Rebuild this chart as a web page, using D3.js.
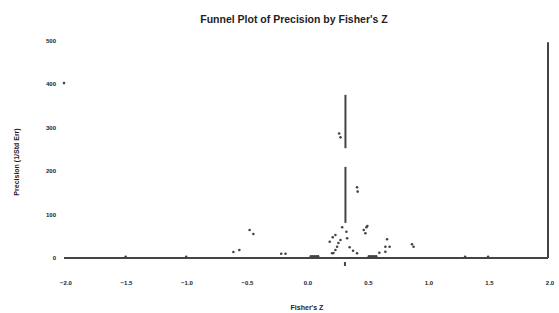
<!DOCTYPE html>
<html>
<head>
<meta charset="utf-8">
<script src="https://cdn.jsdelivr.net/npm/d3@7"></script>
<style>
  html, body { margin: 0; padding: 0; background: #fff; }
  text { font-family: "Liberation Sans", Arial, sans-serif; font-weight: bold; fill: #222; }
</style>
</head>
<body>
<svg id="chart"></svg>
<script>
// study points: Fisher's Z and precision (1/Std Err)
const studyZ = [0.299, 0.334, 0.243, 0.221, 0.196, 0.285, 0.268, 0.257, 0.243, 0.227,
  0.216, 0.340, 0.361, 0.389, 0.422, 0.499, 0.477, 0.491, 0.507, 0.670,
  0.656, 0.691, 0.656, 0.606, 0.876, 0.889, -0.466, -0.435, -0.600, -0.551,
  -0.205, -0.169, 0.04, 0.055, 0.07, 0.085, 0.10, 0.52, 0.535, 0.55, 0.565, 0.58,
  -1.49, -0.99, 1.315, 1.505, 0.422, 0.427, 0.274, 0.285, -2.0];
const studyPrecision = [70.7, 60.6, 53, 47.7, 37.6, 41.5, 34.6, 26, 18.4, 11.5,
  10.8, 45.4, 24.7, 16.8, 10.8, 70.7, 64.5, 56.9, 73.7, 43.1,
  26, 26, 14.5, 12.2, 31.6, 26, 64.5, 55.3, 13.8, 18.4,
  9.9, 9.9, 4, 4, 4, 4, 4, 4, 4, 4, 4, 4,
  3, 3, 3, 3, 163, 153, 287, 278, 403];

// combined effect line (drawn in two pieces like the original)
const meanZ = 0.326;
const meanSegments = [[81, 210], [253, 376]];
const edgeLine = [0, 497];

const xTicks = [-2.0, -1.5, -1.0, -0.5, 0.0, 0.5, 1.0, 1.5, 2.0];
const yTicks = [0, 100, 200, 300, 400, 500];

const width = 559, height = 313;
const svg = d3.select("#chart").attr("width", width).attr("height", height);

const x = d3.scaleLinear().domain([-2, 2]).range([64, 548]);
const y = d3.scaleLinear().domain([0, 500]).range([258, 41]);

svg.append("text")
  .attr("x", 294).attr("y", 23)
  .attr("text-anchor", "middle")
  .style("font-size", "10.5px")
  .text("Funnel Plot of Precision by Fisher's Z");

// x axis line along precision 0
svg.append("line")
  .attr("x1", x(-2)).attr("x2", x(2))
  .attr("y1", y(0)).attr("y2", y(0))
  .attr("stroke", "#444").attr("stroke-width", 2);

// vertical line at the right edge
svg.append("line")
  .attr("x1", x(2)).attr("x2", x(2))
  .attr("y1", y(edgeLine[0])).attr("y2", y(edgeLine[1]))
  .attr("stroke", "#444").attr("stroke-width", 2);

svg.selectAll(".xlab").data(xTicks).enter().append("text")
  .attr("class", "xlab")
  .attr("x", d => x(d) + 2).attr("y", 285)
  .attr("text-anchor", "middle")
  .style("font-size", "6px")
  .text(d => d3.format(".1f")(d));

svg.selectAll(".ylab").data(yTicks).enter().append("text")
  .attr("class", "ylab")
  .attr("x", 56).attr("y", d => y(d) + 2)
  .attr("text-anchor", "end")
  .style("font-size", "6px")
  .text(d => d);

svg.append("text")
  .attr("x", 307).attr("y", 310)
  .attr("text-anchor", "middle")
  .style("font-size", "7px")
  .text("Fisher's Z");

svg.append("text")
  .attr("transform", "translate(19,162) rotate(-90)")
  .attr("text-anchor", "middle")
  .style("font-size", "7px")
  .text("Precision (1/Std Err)");

// combined effect line
svg.selectAll(".mean").data(meanSegments).enter().append("line")
  .attr("class", "mean")
  .attr("x1", x(meanZ)).attr("x2", x(meanZ))
  .attr("y1", d => y(d[0])).attr("y2", d => y(d[1]))
  .attr("stroke", "#444").attr("stroke-width", 2);

// combined effect marker under the axis
svg.append("line")
  .attr("x1", x(meanZ) - 0.5).attr("x2", x(meanZ) - 0.5)
  .attr("y1", y(0) + 4).attr("y2", y(0) + 8)
  .attr("stroke", "#444").attr("stroke-width", 2);

svg.selectAll(".pt").data(studyZ).enter().append("circle")
  .attr("class", "pt")
  .attr("cx", d => x(d))
  .attr("cy", (d, i) => y(studyPrecision[i]))
  .attr("r", 1.3)
  .attr("fill", "#444");
</script>
</body>
</html>
